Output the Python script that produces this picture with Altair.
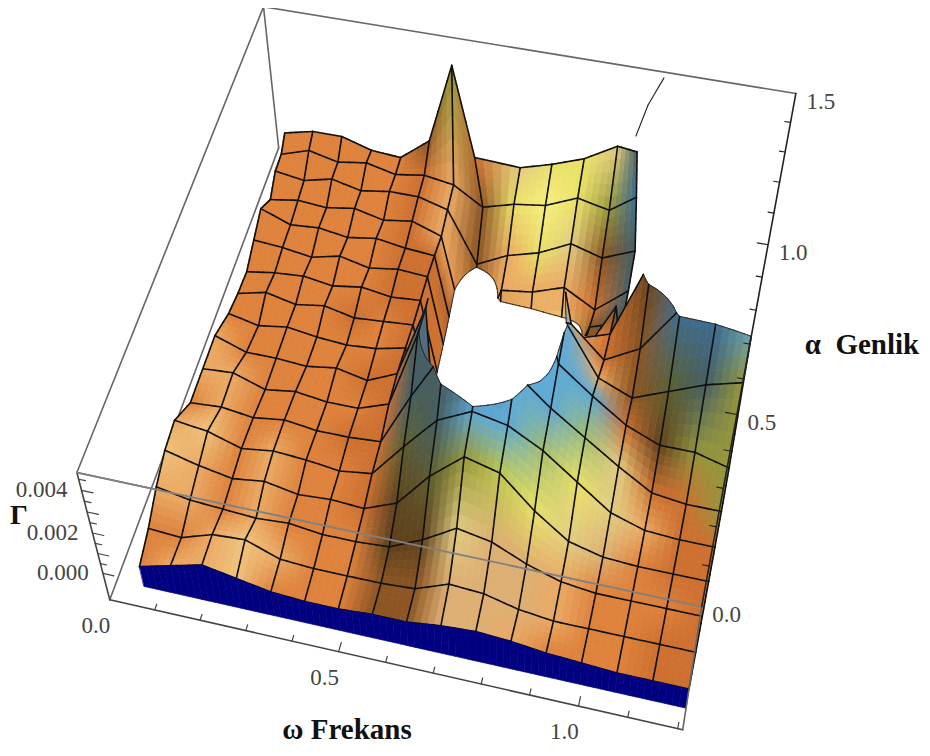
import numpy as np
import altair as alt

ALPHA = [0.0,0.094,0.188,0.281,0.375,0.469,0.563,0.656,0.75,0.844,0.938,1.031,1.125,1.219,1.313,1.406,1.5]
W0_FRONT, W0_BACK, W_MAX, A_MAX = 0.088, 0.0, 1.21, 1.5
LEFT_SHIFT = [0,0,0,0,0,.01,.02,.03,.04,.04,.04,.04,.04,.04,.035,.03,.02]
# Gamma in units of 1e-4, rows run from alpha=0 (front) to alpha=1.5 (back).
# 99 = above the plot range, -60 = below it
GAMMA = [
 [8,12,16,13,10,9,9,10,10,12,13,12,10,9,8,8,8],
 [10,9,14,15,9,8,8,8,9,15,14,10,8,8,8,8,8],
 [14,11,10,9,10,8,8,9,16,25,22,15,10,8,8,8,8],
 [16,12,9,11,8,9,8,14,30,42,38,24,13,9,8,8,8],
 [15,13,8,10,9,7,9,25,40,47,44,36,25,14,9,8,8],
 [9,10,8,10,8,8,9,33,55,60,52,40,30,20,11,9,9],
 [11,12,7,9,7,7,12,46,99,99,99,45,34,24,18,18,14],
 [13,8,8,7,9,6,12,44,99,99,99,49,28,22,28,34,38],
 [10,7,9,7,6,7,10,-60,99,99,99,35,22,30,50,50,52],
 [6,9,6,8,5,6,7,-60,-60,-60,-60,15,20,55,60,65,65],
 [3,5,6,4,6,4,5,-60,-60,-60,-60,-8,19,70,75,80,80],
 [5,4,2,5,2,4,3,-60,-60,-60,-60,-14,-5,99,99,99,99],
 [7,2,3,1,3,1,0,-60,-60,-60,-60,-20,-15,99,99,99,99],
 [-1,1,0,2,-1,1,-3.6,-60,-24,-22,-17,-25,-13,99,99,99,99],
 [0,-2,1,-2,0,0,-3.6,-27,-20,-16,-9,-13,-7,99,99,99,99],
 [-4,0,-3,-1,-4,-2,-4,-12,-8,-6,0,-3,5,99,99,99,99],
 [-6,-3,-3,-7,-8,2,36.5,-2,-3,1,6,14,13,99,99,99,99],
]
SHADES = [
 "ottToooDDLLtoooOO","ootTtooDDLLLtooOO","ttotoooddlLLtoooO","TtotooOdGgcylLoOO",
 "tTotooOGsbbmyltOO","otoooOOsssbbmlOOg","ttooooOsBbbbbOdgg","tooooOOBbbbbtDGsg",
 "ooooooODOOttODBBb","ooooOoOoOtttOdBBb","oooooOOODlyODsBBb","oooooOOODyYDssBBb",
 "oooooOODDyYDssBBb","oooooOtOtttOsBBBb","oooooOtDtylDsBBBb","oooooOtDyYygBBBBb",
 "oooooDgOlyylsBBBb",
]
PALETTE = {"o":(222,130,60),"O":(205,112,48),"t":(235,170,100),"T":(240,195,125),
           "y":(235,225,105),"Y":(245,240,130),"l":(225,205,130),"L":(222,175,115),"g":(150,150,60),
           "G":(95,95,45),"d":(95,65,30),"D":(140,85,35),"b":(95,170,215),
           "B":(60,110,150),"s":(70,95,100),"m":(165,190,110),"c":(190,200,80)}
SKIRT = -2.0
Z_BOT, Z_TOP, Z_LOW = -13.6, 48.0, -28.0
RIM = [(0.895,1.27),(0.905,1.38),(0.925,1.48)]
CAM = [((0,0,0),(113,603)),((1,0,0),(680,731)),((0,1,0),(278,151)),((1,1,0),(773,228)),
       ((0,0,1),(75,467)),((1,0,1),(703,607)),((0,1,1),(263,5)),((1,1,1),(797,100))]
A = []
for (X,Y,Z),(x,y) in CAM:
    x -= 8; y -= 8
    A.append([X,Y,Z,1,0,0,0,0,-x*X,-x*Y,-x*Z,-x])
    A.append([0,0,0,0,X,Y,Z,1,-y*X,-y*Y,-y*Z,-y])
P = np.linalg.svd(np.array(A,float))[2][-1].reshape(3,4)

def proj(w,a,z):
    v = P @ np.array([w/W_MAX, a/A_MAX, (z-Z_BOT)/(Z_TOP-Z_BOT), 1.0])
    return [round(float(v[0]/v[2]),2), round(float(v[1]/v[2]),2)]

AL = np.array(ALPHA); G = np.array(GAMMA,float)
nj, ni = G.shape
W0 = W0_FRONT+(W0_BACK-W0_FRONT)*AL/A_MAX
WW = np.array([[w0+(W_MAX-w0)*i/(ni-1)+LEFT_SHIFT[j]*max(0,1-i/7) for i in range(ni)] for j,w0 in enumerate(W0)])
WW[16,6] -= 0.015
WW[16,7] -= 0.035
WW[15,12] -= 0.015
WW[16,12] -= 0.03
COL = np.array([[PALETTE[c] for c in row] for row in SHADES],float)

SUB = 5
feats = []
def poly(pts, fill):
    ring = [proj(*p) for p in pts]; ring.append(ring[0])
    feats.append({"type":"Feature","geometry":{"type":"Polygon","coordinates":[ring]},
                  "properties":{"f":fill,"s":fill,"w":0.7}})
def line(pts, color="#111111", width=1.6):
    feats.append({"type":"Feature","geometry":{"type":"LineString","coordinates":[proj(*p) for p in pts]},
                  "properties":{"f":"none","s":color,"w":width}})
def cross(a,b,lev):
    t=(lev-a[2])/(b[2]-a[2])
    return tuple(a[m]+t*(b[m]-a[m]) for m in range(3))
def clip_seg(a,b):
    if max(a[2],b[2])>Z_TOP and min(a[2],b[2])<Z_LOW: return None
    for lev,sgn in ((Z_TOP,1),(Z_LOW,-1)):
        oa,ob = sgn*(a[2]-lev)>0, sgn*(b[2]-lev)>0
        if oa and ob: return None
        if oa: a=cross(a,b,lev)
        elif ob: b=cross(a,b,lev)
    return a,b
def clip_poly(pts):
    cuts=[]
    for lev,sgn in ((Z_TOP,1),(Z_LOW,-1)):
        out=[];n=len(pts);cut=[]
        for k in range(n):
            a,b=pts[k],pts[(k+1)%n]
            ia,ib=sgn*(a[2]-lev)<=0,sgn*(b[2]-lev)<=0
            if ia: out.append(a)
            if ia!=ib:
                c=cross(a,b,lev); out.append(c); cut.append(c)
        pts=out
        if len(cut)==2: cuts.append(cut)
        if not pts: break
    return pts,cuts
def surf(i,j,s,t):
    z=G[j,i]*(1-s)*(1-t)+G[j,i+1]*s*(1-t)+G[j+1,i]*(1-s)*t+G[j+1,i+1]*s*t
    w=WW[j,i]*(1-s)*(1-t)+WW[j,i+1]*s*(1-t)+WW[j+1,i]*(1-s)*t+WW[j+1,i+1]*s*t
    return (float(w), float(AL[j]+t*(AL[j+1]-AL[j])), float(z))
def shade(i,j,s,t):
    c=COL[j,i]*(1-s)*(1-t)+COL[j,i+1]*s*(1-t)+COL[j+1,i]*(1-s)*t+COL[j+1,i+1]*s*t
    return "#%02x%02x%02x"%tuple(int(v) for v in c)
def torn(i,j):
    # a cell across which the surface jumps from above the range to below it
    if i==12 and j>=9: return True
    q=[G[j,i],G[j,i+1],G[j+1,i],G[j+1,i+1]]
    return max(q)>=90 and min(q)<=-50

cx = 8
for j in range(nj-2,-1,-1):
    row_lines=[]
    for i in sorted(range(ni-1), key=lambda q:-abs(q+.5-cx)):
        if torn(i,j): continue
        for tq in range(SUB-1,-1,-1):
            for sq in sorted(range(SUB), key=lambda q:-abs(i+(q+.5)/SUB-cx)):
                s0,s1,t0,t1 = sq/SUB,(sq+1)/SUB,tq/SUB,(tq+1)/SUB
                pts=[surf(i,j,s0,t0),surf(i,j,s1,t0),surf(i,j,s1,t1),surf(i,j,s0,t1)]
                c,cuts=clip_poly(pts)
                if len(c)>=3:
                    poly(c,shade(i,j,(s0+s1)/2,(t0+t1)/2))
                for cut in cuts:
                    row_lines.append((cut,"#222222",0.9))
                edges=[]
                if tq==SUB-1: edges.append((pts[3],pts[2]))
                if sq==0: edges.append((pts[0],pts[3]))
                if sq==SUB-1 and (i==ni-2 or torn(i+1,j)): edges.append((pts[1],pts[2]))
                if j==0 and tq==0: edges.append((pts[0],pts[1]))
                for a,b in edges:
                    sg=clip_seg(a,b)
                    if sg: row_lines.append((sg,"#111111",1.6))
    for pts,col,wd in row_lines:
        line(pts,col,wd)
# blue front skirt
for i in range(ni-1):
    for sq in range(SUB):
        s0,s1=sq/SUB,(sq+1)/SUB
        a,b=surf(i,0,s0,0),surf(i,0,s1,0)
        poly([a,b,(b[0],b[1],SKIRT),(a[0],a[1],SKIRT)],"#000080")
for a,b in zip(RIM[:-1],RIM[1:]):
    line([(a[0],a[1],Z_TOP),(b[0],b[1],Z_TOP)],"#222222",1.1)

projection = dict(type="identity", scale=1, translate=[0,0])
def geo(features):
    return (alt.Chart(alt.Data(values=features)).mark_geoshape(strokeCap="round",strokeJoin="round")
            .encode(fill=alt.Fill("properties.f:N",scale=None),
                    stroke=alt.Stroke("properties.s:N",scale=None),
                    strokeWidth=alt.StrokeWidth("properties.w:Q",scale=None))
            .project(**projection))

def edge(p,q,color="#666666",width=1.6):
    return {"type":"Feature","geometry":{"type":"LineString","coordinates":[proj(*p),proj(*q)]},
            "properties":{"f":"none","s":color,"w":width}}
back=[edge((0,A_MAX,Z_TOP),(W_MAX,A_MAX,Z_TOP)),edge((0,0,Z_TOP),(0,A_MAX,Z_TOP)),
      edge((0,A_MAX,Z_TOP),(0,A_MAX,Z_BOT)),edge((0,0,Z_BOT),(0,A_MAX,Z_BOT)),
      edge((0,0,Z_TOP),(0,0,Z_BOT),"#444444"),edge((0,0,Z_BOT),(W_MAX,0,Z_BOT),"#444444"),
      edge((0,0,Z_TOP),(W_MAX,0,Z_TOP))]
front=[edge((0,0,Z_TOP),(W_MAX,0,Z_TOP),"#808080",1.8),edge((W_MAX,0,Z_BOT),(W_MAX,0,Z_TOP)),
       edge((W_MAX,0,Z_TOP),(W_MAX,A_MAX,Z_TOP),"#222222",1.6)]
w_ticks=[0.1,0.2,0.3,0.4,0.5,0.6,0.7,0.8,0.9,1.0,1.1,1.2]
a_ticks=[0.1,0.2,0.3,0.4,0.5,0.6,0.7,0.8,0.9,1.0,1.1,1.2,1.3,1.4]
z_ticks=[0,5,10,15,20,25,30,35,40,45]
for v in w_ticks:
    back.append(edge((v,0,Z_BOT),(v,0.016 if round(v*10)%5 else 0.025,Z_BOT),"#444444",1.2))
for v in a_ticks:
    front.append(edge((W_MAX,v,Z_TOP),(W_MAX-(0.012 if round(v*10)%5 else 0.022),v,Z_TOP),"#222222",1.2))
for v in z_ticks:
    back.append(edge((0,0,v),(0.014 if v%10 else 0.024,0,v),"#444444",1.2))

def labels(vals, pos, dx, dy):
    rows=[{"t":t,"x":p[0],"y":p[1]} for t,p in zip(vals,pos)]
    return (alt.Chart(alt.Data(values=rows)).mark_text(font="Liberation Serif",fontSize=23,color="#444444",dx=dx,dy=dy,align="center",baseline="middle")
            .encode(longitude="x:Q",latitude="y:Q",text="t:N").project(**projection))
wl=labels(["0.0","0.5","1.0"],[proj(v,0,Z_BOT) for v in (0,0.5,1.0)],-14,26)
al=labels(["0.0","0.5","1.0","1.5"],[proj(W_MAX,v,Z_TOP) for v in (0,0.5,1.0,1.5)],25,8)
zl=labels(["0.000","0.002","0.004"],[proj(0,0,v) for v in (0,20,40)],-40,0)
titles=[{"t":"ω Frekans","x":339,"y":722,"s":29},{"t":"α\u00a0\u00a0Genlik","x":854,"y":337,"s":29},{"t":"Γ","x":11,"y":508,"s":28}]
tl=(alt.Chart(alt.Data(values=titles)).mark_text(font="Liberation Serif",fontWeight="bold",color="#111111",align="center",baseline="middle")
    .encode(longitude="x:Q",latitude="y:Q",text="t:N",size=alt.Size("s:Q",scale=None)).project(**projection))

chart=(alt.layer(geo(back),geo(feats),geo(front),wl,al,zl,tl)
       .properties(width=914,height=740,padding=0,background="white",autosize=alt.AutoSizeParams(type="none"))
       .configure_view(stroke=None))
chart.save("out.html", embed_options={"renderer":"svg","actions":False})
